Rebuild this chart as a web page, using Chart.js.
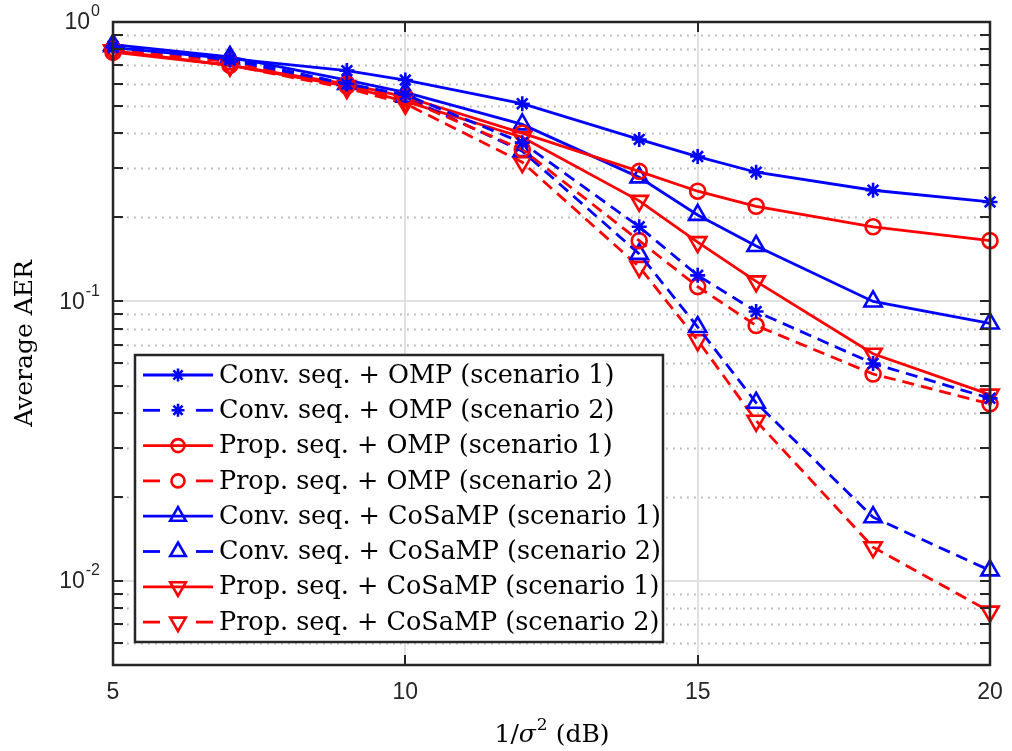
<!DOCTYPE html>
<html>
<head>
<meta charset="utf-8">
<script src="https://cdn.jsdelivr.net/npm/chart.js@4.4.0/dist/chart.umd.min.js"></script>
<style>
  html, body { margin: 0; padding: 0; background: #fff; }
</style>
</head>
<body>
<canvas id="grafico" width="1012" height="751"></canvas>
<script>
// Valores (AER médio x 1/sigma^2 em dB)
const snr = [5, 7, 9, 10, 12, 14, 15, 16, 18, 20];

const convOmpS1 = [0.81, 0.74, 0.67, 0.62, 0.51, 0.38, 0.33, 0.29, 0.25, 0.227];
const convOmpS2 = [0.82, 0.73, 0.60, 0.55, 0.37, 0.185, 0.124, 0.092, 0.060, 0.045];
const propOmpS1 = [0.78, 0.70, 0.60, 0.54, 0.40, 0.292, 0.248, 0.219, 0.185, 0.165];
const propOmpS2 = [0.80, 0.72, 0.59, 0.53, 0.35, 0.165, 0.113, 0.082, 0.055, 0.043];
const convCosampS1 = [0.83, 0.75, 0.62, 0.56, 0.43, 0.278, 0.204, 0.158, 0.100, 0.0834];
const convCosampS2 = [0.82, 0.74, 0.60, 0.54, 0.345, 0.148, 0.081, 0.0434, 0.0169, 0.0109];
const propCosampS1 = [0.79, 0.70, 0.59, 0.52, 0.387, 0.229, 0.163, 0.118, 0.065, 0.0464];
const propCosampS2 = [0.79, 0.70, 0.58, 0.51, 0.315, 0.133, 0.0726, 0.0374, 0.0132, 0.00776];

const ticksX = [5, 10, 15, 20];
const decadasY = [1, 0.1, 0.01];
const expoentesY = ["0", "-1", "-2"];

const AZUL = "#0000ff";
const VERMELHO = "#ff0000";
const EIXO = "#262626";
const TRACO = [12, 7];

function serie(label, valores, cor, tracejado, estilo, raio, rotacao) {
  return {
    label,
    data: snr.map((x, i) => ({ x, y: valores[i] })),
    borderColor: cor,
    backgroundColor: "rgba(0,0,0,0)",
    pointBorderColor: cor,
    pointBackgroundColor: "rgba(0,0,0,0)",
    borderWidth: 2.8,
    pointBorderWidth: 2.6,
    pointRadius: raio,
    pointStyle: estilo,
    pointRotation: rotacao || 0,
    borderDash: tracejado ? TRACO : [],
    tension: 0,
    clip: false
  };
}

const datasets = [
  serie("Conv. seq. + OMP (scenario 1)", convOmpS1, AZUL, false, "star", 7.5),
  serie("Conv. seq. + OMP (scenario 2)", convOmpS2, AZUL, true, "star", 7.5),
  serie("Prop. seq. + OMP (scenario 1)", propOmpS1, VERMELHO, false, "circle", 7.5),
  serie("Prop. seq. + OMP (scenario 2)", propOmpS2, VERMELHO, true, "circle", 7.5),
  serie("Conv. seq. + CoSaMP (scenario 1)", convCosampS1, AZUL, false, "triangle", 10),
  serie("Conv. seq. + CoSaMP (scenario 2)", convCosampS2, AZUL, true, "triangle", 10),
  serie("Prop. seq. + CoSaMP (scenario 1)", propCosampS1, VERMELHO, false, "triangle", 10, 180),
  serie("Prop. seq. + CoSaMP (scenario 2)", propCosampS2, VERMELHO, true, "triangle", 10, 180)
];

function menoresY(min, max) {
  const lista = [];
  for (let d = Math.floor(Math.log10(min)); d <= Math.ceil(Math.log10(max)); d++) {
    for (let m = 2; m <= 9; m++) {
      const v = m * Math.pow(10, d);
      if (v > min * 1.0001 && v < max * 0.9999) lista.push(v);
    }
  }
  return lista;
}

function linha(ctx, x1, y1, x2, y2) {
  ctx.beginPath();
  ctx.moveTo(x1, y1);
  ctx.lineTo(x2, y2);
  ctx.stroke();
}

const desenhoEixos = {
  id: "desenhoEixos",
  beforeDatasetsDraw(chart) {
    const { ctx, chartArea: a, scales: { x, y } } = chart;
    ctx.save();
    // grade menor pontilhada
    ctx.strokeStyle = "#b8b8b8";
    ctx.lineWidth = 1.8;
    ctx.setLineDash([1.8, 5.2]);
    menoresY(y.min, y.max).forEach(v => {
      const py = Math.round(y.getPixelForValue(v)) + 0.5;
      linha(ctx, a.left, py, a.right, py);
    });
    // grade maior
    ctx.setLineDash([]);
    ctx.strokeStyle = "#e0e0e0";
    ctx.lineWidth = 2;
    decadasY.forEach(v => {
      const py = Math.round(y.getPixelForValue(v));
      linha(ctx, a.left, py, a.right, py);
    });
    ticksX.forEach(v => {
      const px = Math.round(x.getPixelForValue(v));
      linha(ctx, px, a.top, px, a.bottom);
    });
    ctx.restore();
  },
  afterDatasetsDraw(chart) {
    const { ctx, chartArea: a, scales: { x, y } } = chart;
    ctx.save();
    ctx.strokeStyle = EIXO;
    ctx.lineWidth = 2.5;
    ctx.setLineDash([]);
    ctx.strokeRect(a.left, a.top, a.right - a.left, a.bottom - a.top);

    // marcas dos eixos
    const tam = 10;
    ctx.lineWidth = 2;
    decadasY.concat(menoresY(y.min, y.max)).forEach(v => {
      const py = Math.round(y.getPixelForValue(v));
      linha(ctx, a.left, py, a.left + tam, py);
      linha(ctx, a.right, py, a.right - tam, py);
    });
    ticksX.forEach(v => {
      const px = Math.round(x.getPixelForValue(v));
      linha(ctx, px, a.bottom, px, a.bottom - tam);
      linha(ctx, px, a.top, px, a.top + tam);
    });

    // rótulos dos eixos
    ctx.fillStyle = EIXO;
    ctx.font = "23px 'Liberation Sans', Arial, sans-serif";
    ctx.textAlign = "center";
    ctx.textBaseline = "middle";
    ticksX.forEach(v => {
      ctx.fillText(String(v), x.getPixelForValue(v), a.bottom + 28);
    });

    decadasY.forEach((v, i) => {
      const py = y.getPixelForValue(v);
      const dir = a.left - 13;
      ctx.font = "16px 'Liberation Sans', Arial, sans-serif";
      const wExp = ctx.measureText(expoentesY[i]).width;
      ctx.textAlign = "right";
      ctx.fillText(expoentesY[i], dir, py - 10);
      ctx.font = "23px 'Liberation Sans', Arial, sans-serif";
      ctx.fillText("10", dir - wExp - 1, py + 1);
    });

    // títulos
    ctx.fillStyle = "#000";
    ctx.textAlign = "left";
    ctx.textBaseline = "alphabetic";
    const cx = (a.left + a.right) / 2;
    const fonteSerif = "25px 'DejaVu Serif', serif";
    const fonteItalica = "italic 25px 'DejaVu Serif', serif";
    const fonteSup = "17px 'DejaVu Serif', serif";
    ctx.font = fonteSerif;
    const w1 = ctx.measureText("1/").width;
    ctx.font = fonteItalica;
    const w2 = ctx.measureText("σ").width;
    ctx.font = fonteSup;
    const w3 = ctx.measureText("2").width;
    ctx.font = fonteSerif;
    const w4 = ctx.measureText(" (dB)").width;
    let px = cx - (w1 + w2 + w3 + w4) / 2;
    const base = 742;
    ctx.font = fonteSerif; ctx.fillText("1/", px, base); px += w1;
    ctx.font = fonteItalica; ctx.fillText("σ", px, base); px += w2 + 1;
    ctx.font = fonteSup; ctx.fillText("2", px, base - 12); px += w3;
    ctx.font = fonteSerif; ctx.fillText(" (dB)", px, base);

    ctx.save();
    ctx.translate(32, (a.top + a.bottom) / 2);
    ctx.rotate(-Math.PI / 2);
    ctx.textAlign = "center";
    ctx.font = fonteSerif;
    ctx.fillText("Average AER", 0, 0);
    ctx.restore();

    // legenda
    const lx = 135, ly = 355, lw = 528, lh = 287;
    const fonteLegenda = "25.5px 'DejaVu Serif', serif";
    ctx.fillStyle = "#fff";
    ctx.fillRect(lx, ly, lw, lh);
    ctx.strokeStyle = EIXO;
    ctx.lineWidth = 2.5;
    ctx.strokeRect(lx, ly, lw, lh);
    chart.data.datasets.forEach((ds, i) => {
      const ry = ly + 20 + i * 35.3;
      ctx.strokeStyle = ds.borderColor;
      ctx.lineWidth = ds.borderWidth;
      if (ds.borderDash.length) {
        linha(ctx, 143, ry, 160, ry);
        linha(ctx, 196, ry, 213, ry);
      } else {
        linha(ctx, 143, ry, 213, ry);
      }
      ctx.fillStyle = "rgba(0,0,0,0)";
      ctx.lineWidth = ds.pointBorderWidth;
      Chart.helpers.drawPoint(ctx, {
        pointStyle: ds.pointStyle,
        rotation: ds.pointRotation,
        radius: ds.pointRadius - 1,
        borderWidth: ds.pointBorderWidth
      }, 178, ry);
      ctx.fillStyle = "#000";
      ctx.font = fonteLegenda;
      ctx.textBaseline = "middle";
      ctx.textAlign = "left";
      ctx.fillText(ds.label, 219, ry + 1);
    });
    ctx.restore();
  }
};

new Chart(document.getElementById("grafico"), {
  type: "line",
  data: { datasets },
  options: {
    responsive: false,
    animation: false,
    layout: { padding: { left: 113, right: 22, top: 22, bottom: 86 } },
    plugins: { legend: { display: false }, tooltip: { enabled: false } },
    scales: {
      x: { type: "linear", min: 5, max: 20, display: false },
      y: { type: "logarithmic", min: 0.005, max: 1, display: false }
    }
  },
  plugins: [desenhoEixos]
});
</script>
</body>
</html>
